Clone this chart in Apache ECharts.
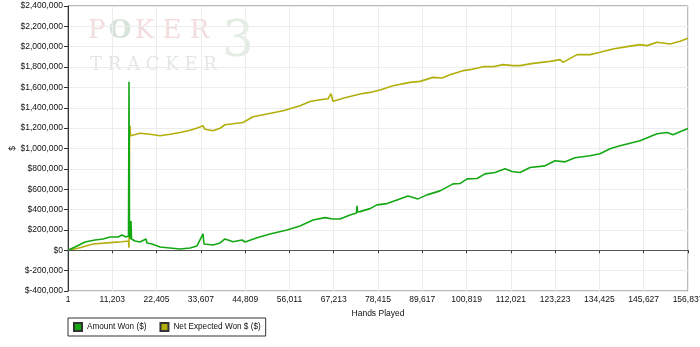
<!DOCTYPE html>
<html>
<head>
<meta charset="utf-8">
<script src="https://cdn.jsdelivr.net/npm/echarts@6/dist/echarts.min.js"></script>
<style>
  html, body { margin: 0; padding: 0; background: #fff; }
  #chart { width: 700px; height: 347px; }
</style>
</head>
<body>
<div id="chart"></div>
<script>
// x tick labels (hands played), one per 11,202 hands
var xTickLabels = ['1', '11,203', '22,405', '33,607', '44,809', '56,011', '67,213', '78,415',
  '89,617', '100,819', '112,021', '123,223', '134,425', '145,627', '156,837'];
var handStep = 11202;

// Amount Won ($)
var wonHands = [1, 1772, 4301, 6831, 8855, 10625, 12649, 13661, 14672, 15305, 15431, 15558, 15810, 15937, 16063,
  16948, 18213, 19731, 19984, 21249, 23272, 25802, 28331, 30861, 32630, 34150, 34403, 36680, 38450, 39715,
  41738, 44015, 44774, 47810, 51098, 55398, 58686, 61974, 65010, 67033, 68804, 71334, 72978, 73104, 73231,
  73863, 76393, 78164, 80693, 83223, 86006, 88535, 90812, 94100, 97389, 99160, 100930, 103460, 105483,
  108013, 110542, 112313, 114337, 116866, 120661, 123190, 125720, 128250, 132044, 134574, 137103, 139633,
  144692, 148992, 151522, 153039, 154810, 156829];
var wonValues = [0, 32500, 81700, 101400, 111200, 130900, 130900, 150600, 130900, 140700, 1656000, 140000, 111000, 288000, 111000,
  91500, 81700, 111000, 72000, 62000, 32500, 22600, 12800, 22600, 42300, 160500, 62000, 52200, 72000, 111200,
  84600, 101400, 81700, 124000, 160400, 199800, 239200, 298200, 320900, 308000, 308000, 347400, 367100, 436000, 377000,
  379900, 409400, 445800, 458600, 495000, 534400, 504900, 544300, 583600, 652500, 655500, 701700, 704700, 751000,
  763700, 800200, 773600, 763700, 813000, 829700, 878900, 869000, 908400, 928100, 947800, 997000, 1026500,
  1075700, 1144600, 1157400, 1134800, 1164300, 1196800];

// Net Expected Won $ ($)
var expHands = [1, 3036, 6325, 10625, 13661, 15305, 15431, 15558, 15684, 15810, 16190, 18213, 20743, 23272,
  25802, 28331, 30861, 32884, 34149, 34655, 36680, 38450, 39715, 41738, 44267, 46797, 50338, 54385, 58686,
  61216, 63745, 65769, 66528, 67033, 70069, 73863, 76393, 78922, 82211, 86511, 89041, 92329, 94606, 96629,
  99918, 101689, 104977, 107507, 110036, 112566, 114337, 117625, 121925, 124455, 125214, 128755, 132044,
  134574, 137863, 141404, 144692, 146463, 148992, 152281, 154810, 156829];
var expValues = [0, 25600, 62000, 74800, 84600, 91500, 25600, 1095400, 1223400, 1125000, 1144600, 1149500, 1139700, 1125000,
  1139700, 1157400, 1179000, 1203700, 1223400, 1188900, 1174100, 1198700, 1233200, 1243000, 1255800, 1311900, 1338500, 1371000, 1420200,
  1462500, 1479200, 1489100, 1538300, 1464500, 1498900, 1535300, 1551100, 1574700, 1617000, 1649500, 1659400, 1698700, 1692800, 1725300,
  1764700, 1774500, 1804000, 1804000, 1823700, 1813900, 1813900, 1836500, 1856200, 1872900, 1846400, 1922100, 1922100,
  1944800, 1978200, 2000900, 2020600, 2010700, 2043200, 2027400, 2053000, 2082600];

function pairs(xs, ys) {
  return xs.map(function (x, i) { return [x, ys[i]]; });
}

var chart = echarts.init(document.getElementById('chart'));
var font = 'Liberation Sans, Arial, sans-serif';

chart.setOption({
  animation: false,
  textStyle: { fontFamily: font },
  grid: {
    left: 68, right: 12, top: 6, bottom: 56,
    outerBoundsMode: 'none',
    show: true, borderColor: '#777', borderWidth: 1
  },
  graphic: [
    {
      type: 'text', left: 88, top: 18, z: 0, silent: true,
      style: {
        text: '{a|P} {b|O} {a|K E R}',
        rich: {
          a: { fontFamily: 'DejaVu Serif, serif', fontSize: 26, fill: '#f2dcdc' },
          b: { fontFamily: 'DejaVu Serif, serif', fontSize: 26, fill: '#d6e3d9', fontWeight: 'bold' }
        }
      }
    },
    {
      type: 'text', left: 90, top: 56, z: 0, silent: true,
      style: { text: 'T R A C K E R', fontFamily: 'DejaVu Serif, serif', fontSize: 18, fill: '#e3e7e3' }
    },
    {
      type: 'text', left: 222, top: 18, z: 0, silent: true,
      style: { text: '3', fontFamily: 'DejaVu Serif, serif', fontSize: 50, fill: '#e4ede4' }
    }
  ],
  legend: {
    left: 68, top: 318,
    orient: 'horizontal',
    borderColor: '#333', borderWidth: 1,
    padding: [4, 5, 4, 5],
    itemWidth: 8, itemHeight: 8, itemGap: 13,
    icon: 'rect',
    textStyle: { fontSize: 8.2, color: '#111', fontFamily: font },
    data: ['Amount Won ($)', 'Net Expected Won $ ($)']
  },
  xAxis: {
    type: 'value',
    min: 0, max: handStep * 14, interval: handStep,
    name: 'Hands Played', nameLocation: 'middle', nameGap: 18,
    nameTextStyle: { fontSize: 8.5, color: '#111' },
    axisLine: { lineStyle: { color: '#333' } },
    axisTick: { show: true, length: 3, lineStyle: { color: '#333' } },
    axisLabel: {
      fontSize: 8.5, color: '#111', margin: 4, showMaxLabel: true, hideOverlap: false,
      formatter: function (v) { return xTickLabels[Math.round(v / handStep)]; }
    },
    splitLine: { show: true, lineStyle: { color: '#ececec' } }
  },
  yAxis: {
    type: 'value',
    min: -400000, max: 2400000, interval: 200000,
    name: '$', nameLocation: 'middle', nameGap: 51, nameRotate: 90,
    nameMoveOverlap: false,
    nameTextStyle: { fontSize: 8.5, color: '#111' },
    axisLine: { show: true, onZero: false, lineStyle: { color: '#333' } },
    axisTick: { show: true, length: 4, lineStyle: { color: '#333' } },
    axisLabel: {
      fontSize: 8.5, color: '#111', margin: 5,
      formatter: function (v) { return '$' + v.toLocaleString('en-US'); }
    },
    splitLine: { show: true, lineStyle: { color: '#ececec' } }
  },
  series: [
    {
      name: 'Amount Won ($)',
      type: 'line',
      data: pairs(wonHands, wonValues),
      showSymbol: false,
      z: 4,
      itemStyle: { color: '#13a813', borderColor: '#333', borderWidth: 1 },
      lineStyle: { color: '#13a813', width: 1.6 },
      markLine: {
        silent: true, symbol: 'none', label: { show: false },
        lineStyle: { color: '#555', width: 1, type: 'solid' },
        data: [{ yAxis: 0 }]
      }
    },
    {
      name: 'Net Expected Won $ ($)',
      type: 'line',
      data: pairs(expHands, expValues),
      showSymbol: false,
      z: 3,
      itemStyle: { color: '#b2ae0a', borderColor: '#333', borderWidth: 1 },
      lineStyle: { color: '#b2ae0a', width: 1.6 }
    }
  ]
});
</script>
</body>
</html>
